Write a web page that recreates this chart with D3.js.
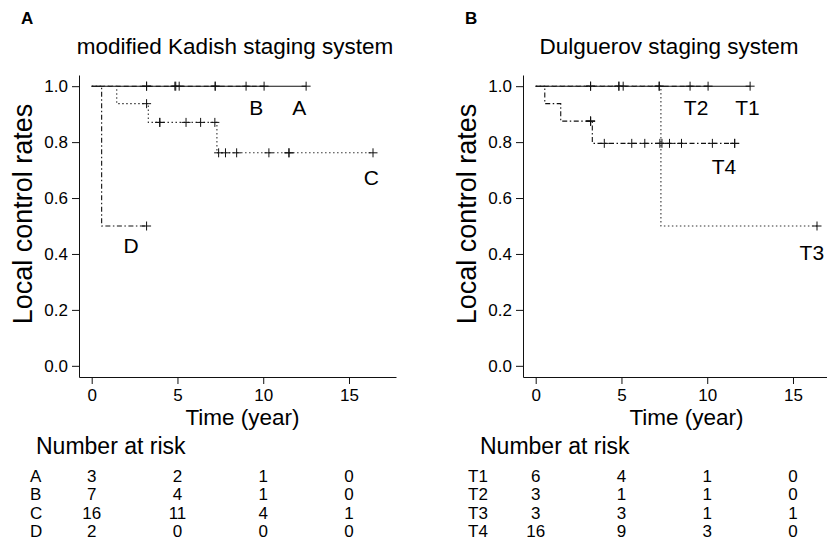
<!DOCTYPE html>
<html><head><meta charset="utf-8">
<script src="https://cdn.jsdelivr.net/npm/d3@7"></script>
<style>
html,body{margin:0;padding:0;background:#fff;}
svg text{font-family:"Liberation Sans",Arial,Helvetica,sans-serif;fill:#000;}
</style></head><body><svg id="chart" width="827" height="542"></svg>
<script>
// ---------- data ----------
const xTicks = [0, 5, 10, 15];
const yTicks = [0, 0.2, 0.4, 0.6, 0.8, 1.0];
const riskTimes = [0, 5, 10, 15];

const kadishTitle = "modified Kadish staging system";
const kadishGroups = ["A", "B", "C", "D"];
const kadishStepTimes = [[0], [0], [0, 1.46, 3.3, 7.3], [0, 0.58]];
const kadishStepRates = [[1], [1], [1, 0.9375, 0.8705, 0.7617], [1, 0.5]];
const kadishEndTimes = [12.5, 10.05, 16.4, 3.2];
const kadishCensors = [
  [3.2, 7.2, 12.5],
  [3.2, 4.85, 4.9, 5.1, 7.2, 9.0, 10.05],
  [3.2, 3.97, 3.97, 5.5, 6.35, 7.18, 7.4, 7.8, 8.45, 10.33, 11.5, 11.5, 16.4],
  [3.2]
];
const kadishRisk = [[3, 2, 1, 0], [7, 4, 1, 0], [16, 11, 4, 1], [2, 0, 0, 0]];

const dulgTitle = "Dulguerov staging system";
const dulgGroups = ["T1", "T2", "T3", "T4"];
const dulgStepTimes = [[0], [0], [0, 7.3], [0, 0.53, 1.46, 3.3]];
const dulgStepRates = [[1], [1], [1, 0.5], [1, 0.9375, 0.875, 0.7955]];
const dulgEndTimes = [12.5, 10.05, 16.4, 11.6];
const dulgCensors = [
  [3.2, 4.85, 5.1, 7.2, 9.0, 12.5],
  [3.2, 4.85, 10.05],
  [7.2, 16.4],
  [3.2, 3.2, 3.2, 4.0, 5.6, 6.36, 7.24, 7.36, 7.8, 8.5, 10.3, 11.6, 11.6]
];
const dulgRisk = [[6, 4, 1, 0], [3, 1, 1, 0], [3, 3, 1, 1], [16, 9, 3, 0]];

// ---------- drawing ----------
const svg = d3.select("#chart");
svg.append("rect").attr("width", 827).attr("height", 542).attr("fill", "#fff");

const dashes = [null, "5,3", "1.5,2.5", "1.5,2.5,5,2.5"];
const FONT = '"Liberation Sans",Arial,Helvetica,sans-serif';

function panel(opt) {
  const dx = opt.dx;
  const g = svg.append("g");
  const x = d3.scaleLinear().domain([-0.74, 17.74]).range([79 + dx, 396 + dx]);
  const y = d3.scaleLinear().domain([-0.04, 1.04]).range([377, 75]);

  // panel letter
  g.append("text").attr("x", 21 + dx).attr("y", 24).attr("font-size", 17)
    .attr("font-weight", "bold").text(opt.letter);
  // title
  g.append("text").attr("x", opt.titleX).attr("y", 54)
    .attr("text-anchor", "middle").attr("font-size", 22.5).text(opt.title);

  // axes
  const ay = g.append("g").attr("transform", `translate(${x.range()[0]},0)`)
    .call(d3.axisLeft(y).tickValues(yTicks).tickFormat(d3.format(".1f"))
      .tickSize(7).tickSizeOuter(0).tickPadding(4));
  const ax = g.append("g").attr("transform", `translate(0,377)`)
    .call(d3.axisBottom(x).tickValues(xTicks).tickFormat(d3.format("d"))
      .tickSize(7).tickSizeOuter(0).tickPadding(5));
  [ax, ay].forEach(a => {
    a.selectAll("path,line").attr("stroke", "#111");
    a.selectAll("text").attr("font-size", 17).attr("font-family", FONT).attr("fill", "#000");
  });

  // axis labels
  g.append("text").attr("transform", `translate(${32 + dx},214) rotate(-90)`)
    .attr("text-anchor", "middle").attr("font-size", 27).text("Local control rates");
  g.append("text").attr("x", (x.range()[0] + x.range()[1]) / 2 + 5).attr("y", 425)
    .attr("text-anchor", "middle").attr("font-size", 22.5).text("Time (year)");

  // curves
  const line = d3.line().x(d => x(d[0])).y(d => y(d[1])).curve(d3.curveStepAfter);
  opt.groups.forEach((name, i) => {
    const times = opt.stepTimes[i], rates = opt.stepRates[i];
    const pts = times.map((t, k) => [t, rates[k]]);
    pts.push([opt.endTimes[i], rates[rates.length - 1]]);
    const p = g.append("path").attr("d", line(pts)).attr("fill", "none")
      .attr("stroke", i === 2 ? "#333" : "#111").attr("stroke-width", 1.1);
    if (dashes[i]) p.attr("stroke-dasharray", dashes[i]);
    const rateAt = t => {
      let r = rates[0];
      times.forEach((tt, k) => { if (tt <= t) r = rates[k]; });
      return r;
    };
    g.append("g").selectAll("path").data(opt.censors[i]).join("path")
      .attr("d", t => {
        const cx = x(t), cy = y(rateAt(t));
        return `M${cx - 4.5},${cy}h9M${cx},${cy - 4.5}v9`;
      })
      .attr("stroke", "#111").attr("stroke-width", 1).attr("fill", "none");
    const la = opt.labelAt[i];
    g.append("text").attr("x", x(la[0])).attr("y", y(la[1])).attr("dy", "0.36em")
      .attr("text-anchor", "middle").attr("font-size", 21).text(name);
  });

  // number at risk
  g.append("text").attr("x", opt.riskTitleX).attr("y", 454).attr("font-size", 23)
    .text("Number at risk");
  opt.groups.forEach((name, i) => {
    const by = 482 + i * 18.3;
    g.append("text").attr("x", opt.rowLabelX).attr("y", by).attr("font-size", 17).text(name);
    riskTimes.forEach((t, j) => {
      g.append("text").attr("x", x(t)).attr("y", by).attr("text-anchor", "middle")
        .attr("font-size", 17).text(opt.risk[i][j]);
    });
  });
}

panel({
  dx: 0, letter: "A", title: kadishTitle, titleX: 235, groups: kadishGroups,
  stepTimes: kadishStepTimes, stepRates: kadishStepRates, endTimes: kadishEndTimes,
  censors: kadishCensors, risk: kadishRisk,
  labelAt: [[12.1, 0.925], [9.6, 0.925], [16.3, 0.675], [2.3, 0.43]],
  riskTitleX: 36, rowLabelX: 30
});
panel({
  dx: 444, letter: "B", title: dulgTitle, titleX: 669, groups: dulgGroups,
  stepTimes: dulgStepTimes, stepRates: dulgStepRates, endTimes: dulgEndTimes,
  censors: dulgCensors, risk: dulgRisk,
  labelAt: [[12.35, 0.925], [9.35, 0.925], [16.1, 0.405], [10.98, 0.713]],
  riskTitleX: 480, rowLabelX: 468
});
</script></body></html>
